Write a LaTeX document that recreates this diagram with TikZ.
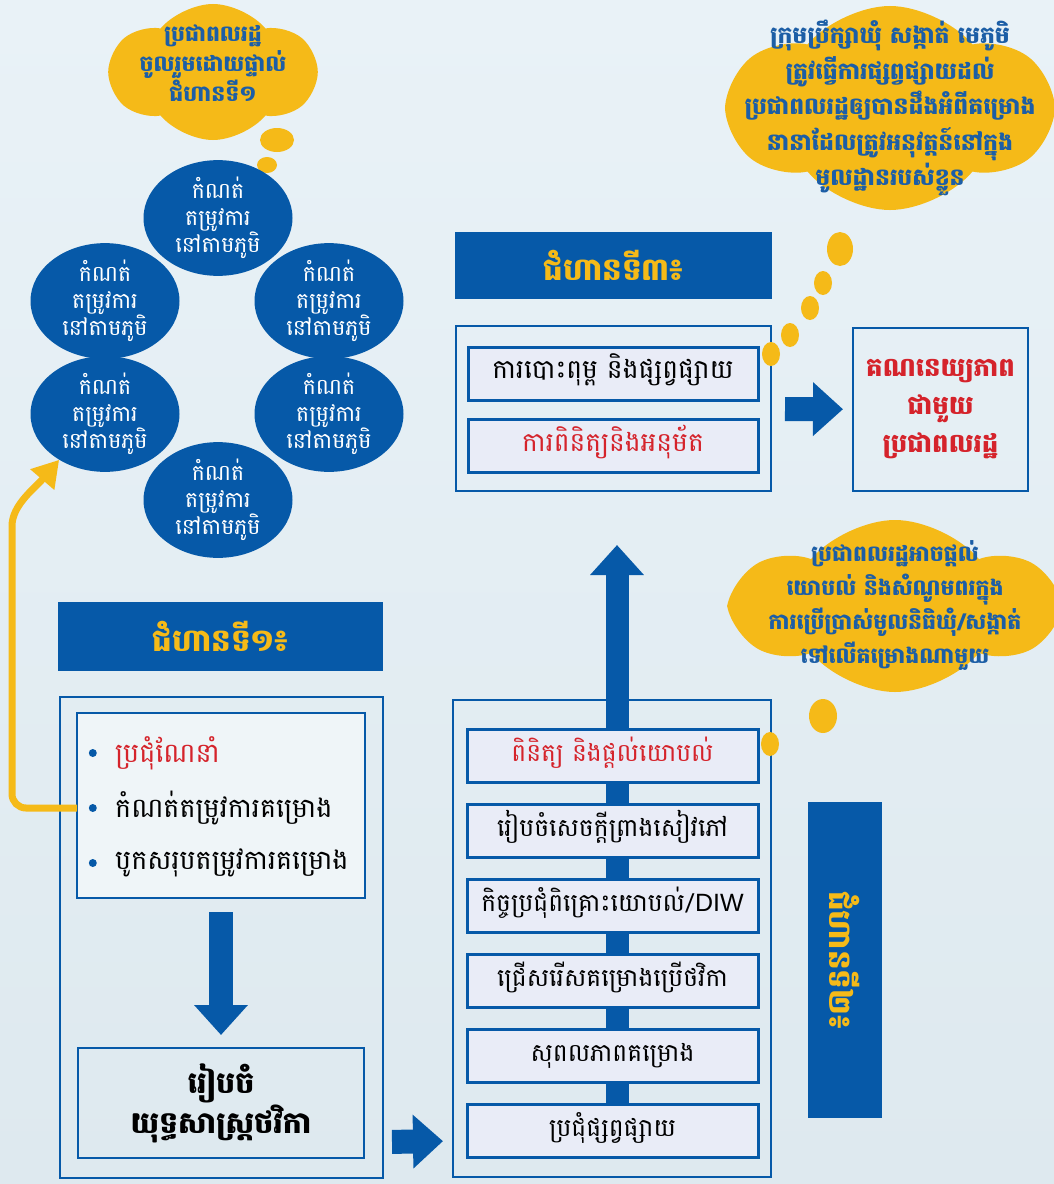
\documentclass[tikz,border=0pt]{standalone}
\usepackage{fontspec}
\setmainfont[Script=Khmer]{Battambang}
\newfontfamily\latinfont{Liberation Sans}
\usepackage{tikz}
\usetikzlibrary{positioning,shapes.geometric,shapes.symbols,arrows.meta,calc,backgrounds}
\definecolor{kblue}{RGB}{6,89,168}
\definecolor{kyellow}{RGB}{245,186,24}
\definecolor{kred}{RGB}{213,35,43}
\definecolor{ktext}{RGB}{28,94,166}
\definecolor{kbox}{RGB}{233,236,247}
\definecolor{kback}{RGB}{228,238,244}
\definecolor{kbacktop}{RGB}{233,242,247}
\definecolor{kbackbot}{RGB}{222,233,239}

\begin{document}
\begin{tikzpicture}[x=1pt,y=1pt]
\tikzstyle{stagehead}=[rectangle, fill=kblue, text=kyellow, inner sep=0pt, outer sep=0pt, font=\fontsize{31}{36}\selectfont\bfseries]
\tikzstyle{outerbox}=[rectangle, draw=kblue, line width=2.5pt, inner sep=0pt, outer sep=0pt]
\tikzstyle{stepbox}=[rectangle, draw=kblue, line width=3pt, fill=kbox, minimum width=291pt, minimum height=53pt, inner sep=0pt, outer sep=0pt, text height=17pt, text depth=7pt, font=\fontsize{25}{30}\selectfont]
\tikzstyle{need}=[ellipse, fill=kblue, text=white, minimum width=149pt, minimum height=101pt, inner sep=0pt, align=center, font=\fontsize{22}{26.5}\selectfont]
\tikzstyle{bubble}=[cloud, cloud puffs=6, cloud puff arc=100, cloud ignores aspect, fill=kyellow, inner sep=0pt]
\tikzstyle{bubbletext}=[text=ktext, align=center, inner sep=0pt]
\tikzstyle{item}=[anchor=west, inner sep=0pt, font=\fontsize{27}{32}\selectfont]
\tikzstyle{bullet}=[circle, fill=kblue, inner sep=0pt, minimum size=8pt]
\tikzstyle{bigarrow}=[draw=kblue, line width=24pt, -{Triangle[width=52pt, length=30pt]}]
\tikzstyle{yline}=[draw=kyellow, line width=7pt, rounded corners=14pt, -{Triangle[width=30pt, length=26pt]}]
\tikzstyle{tail}=[fill=kyellow]
  % page
  \begin{pgfonlayer}{background}
  \shade[top color=kbacktop, bottom color=kbackbot] (0,0) rectangle (1054,-1184);
  \end{pgfonlayer}
  \useasboundingbox (0,0) rectangle (1054,-1184);
  % direct participation bubble
  \fill[tail] (277,-140) ellipse (17 and 12);
  \fill[tail] (267,-165) ellipse (10 and 8);
  \node[bubble, minimum width=205pt, minimum height=136pt] (directcloud) at (213,-72) {};
  \node[bubbletext, font=\fontsize{22}{30}\selectfont\bfseries] (direct) at (213,-63) {ប្រជាពលរដ្ឋ\\ចូលរួមដោយផ្ទាល់\\ជំហានទី១};
  % needs
  \node[need] (need1) at (218,-218) {កំណត់\\តម្រូវការ\\នៅតាមភូមិ};
  \node[need] (need2) at (105,-301) {កំណត់\\តម្រូវការ\\នៅតាមភូមិ};
  \node[need] (need3) at (329,-301) {កំណត់\\តម្រូវការ\\នៅតាមភូមិ};
  \node[need] (need4) at (105,-414) {កំណត់\\តម្រូវការ\\នៅតាមភូមិ};
  \node[need] (need5) at (329,-414) {កំណត់\\តម្រូវការ\\នៅតាមភូមិ};
  \node[need] (need6) at (218,-500) {កំណត់\\តម្រូវការ\\នៅតាមភូមិ};
  % stage 1
  \node[stagehead, minimum width=325pt, minimum height=69pt] (head1) at (220.5,-636.5) {ជំហានទី១៖};
  \node[outerbox, minimum width=323pt, minimum height=481pt] (s1outer) at (221.5,-937.5) {};
  \node[outerbox, fill=white!40!kback, minimum width=288pt, minimum height=185pt] (s1inner) at (221,-805.5) {};
  \node[item, text=kred] (meet) at (115,-753) {ប្រជុំណែនាំ};
  \node[item] (define) at (115,-808) {កំណត់តម្រូវការគម្រោង};
  \node[item] (sum) at (115,-863) {បូកសរុបតម្រូវការគម្រោង};
  \node[bullet, left=18pt of meet] (dot1) {};
  \node[bullet, left=18pt of define] (dot2) {};
  \node[bullet, left=18pt of sum] (dot3) {};
  \node[outerbox, minimum width=286pt, minimum height=110pt, align=center, font=\fontsize{30}{40}\selectfont\bfseries] (strat) at (221,-1103) {រៀបចំ\\យុទ្ធសាស្ត្រថវិកា};
  % stage 2
  \node[outerbox, minimum width=318pt, minimum height=477pt] (s2outer) at (612,-938.5) {};
  \node[stepbox] (spread) at (612.5,-1131) {ប្រជុំផ្សព្វផ្សាយ};
  \node[stepbox, above=22pt of spread] (valid) {សុពលភាពគម្រោង};
  \node[stepbox, above=22pt of valid] (select) {ជ្រើសរើសគម្រោងប្រើថវិកា};
  \node[stepbox, above=22pt of select] (diw) {កិច្ចប្រជុំពិគ្រោះយោបល់/{\latinfont DIW}};
  \node[stepbox, above=22pt of diw] (draft) {រៀបចំសេចក្តីព្រាងសៀវភៅ};
  \node[stepbox, above=22pt of draft, text=kred] (review) {ពិនិត្យ និងផ្តល់យោបល់};
  \node[stagehead, rotate=-90, minimum width=316pt, minimum height=74pt] (head2) at (845,-960) {ជំហានទី២៖};
  % stage 3
  \node[stagehead, minimum width=317pt, minimum height=67pt] (head3) at (613.5,-265.5) {ជំហានទី៣៖};
  \node[outerbox, minimum width=315pt, minimum height=165pt] (s3outer) at (613.5,-408.5) {};
  \node[stepbox, minimum width=290pt, font=\fontsize{26.5}{30}\selectfont] (print) at (613,-373.5) {ការបោះពុម្ព និងផ្សព្វផ្សាយ};
  \node[stepbox, minimum width=290pt, font=\fontsize{26.5}{30}\selectfont, text=kred] (approve) at (613,-446) {ការពិនិត្យនិងអនុម័ត};
  \node[outerbox, minimum width=175pt, minimum height=163pt, align=center, text=kred, font=\fontsize{26}{38}\selectfont\bfseries] (account) at (940.5,-409.5) {គណនេយ្យភាព\\ជាមួយ\\ប្រជាពលរដ្ឋ};
  % council bubble
  \node[bubble, minimum width=320pt, minimum height=204pt] (councilcloud) at (890,-108) {};
  \node[bubbletext, font=\fontsize{23.5}{35.5}\selectfont\bfseries] (council) at (councilcloud) {ក្រុមប្រឹក្សាឃុំ សង្កាត់ មេភូមិ\\ត្រូវធ្វើការផ្សព្វផ្សាយដល់\\ប្រជាពលរដ្ឋឲ្យបានដឹងអំពីគម្រោង\\នានាដែលត្រូវអនុវត្តន៍នៅក្នុង\\មូលដ្ឋានរបស់ខ្លួន};
  \fill[tail] (840,-249) ellipse (13 and 17);
  \fill[tail] (823,-283) ellipse (9 and 12);
  \fill[tail] (810,-308) ellipse (9 and 12);
  \fill[tail] (790,-335) ellipse (9 and 12);
  \fill[tail] (771,-354) ellipse (9 and 12);
  % opinion bubble
  \node[bubble, minimum width=316pt, minimum height=172pt] (opinioncloud) at (895,-606) {};
  \node[bubbletext, font=\fontsize{22}{34}\selectfont\bfseries] (opinion) at (opinioncloud) {ប្រជាពលរដ្ឋអាចផ្តល់\\យោបល់ និងសំណូមពរក្នុង\\ការប្រើប្រាស់មូលនិធិឃុំ/សង្កាត់\\ទៅលើគម្រោងណាមួយ};
  \fill[tail] (823,-716) ellipse (14 and 17);
  \fill[tail] (770,-744) ellipse (9 and 12);
  % arrows
  \draw[bigarrow, shorten <=14pt, shorten >=13pt] (s1inner) -- (strat);
  \draw[bigarrow, shorten <=9pt, shorten >=10pt] ([yshift=36pt]s1outer.south east) -- ([yshift=36pt]s2outer.south west);
  \draw[bigarrow, shorten <=14pt, shorten >=10pt] (s3outer) -- (account);
  \begin{pgfonlayer}{background}
  \draw[bigarrow, line width=23pt, shorten >=54pt] ([xshift=4.5pt]spread.center) -- ([xshift=3.5pt]s3outer.south);
  \end{pgfonlayer}
  \draw[yline] (s1inner.west |- define) -| (12,-540) .. controls (12,-505) and (35,-488) .. (need4.225);
\end{tikzpicture}
\end{document}
